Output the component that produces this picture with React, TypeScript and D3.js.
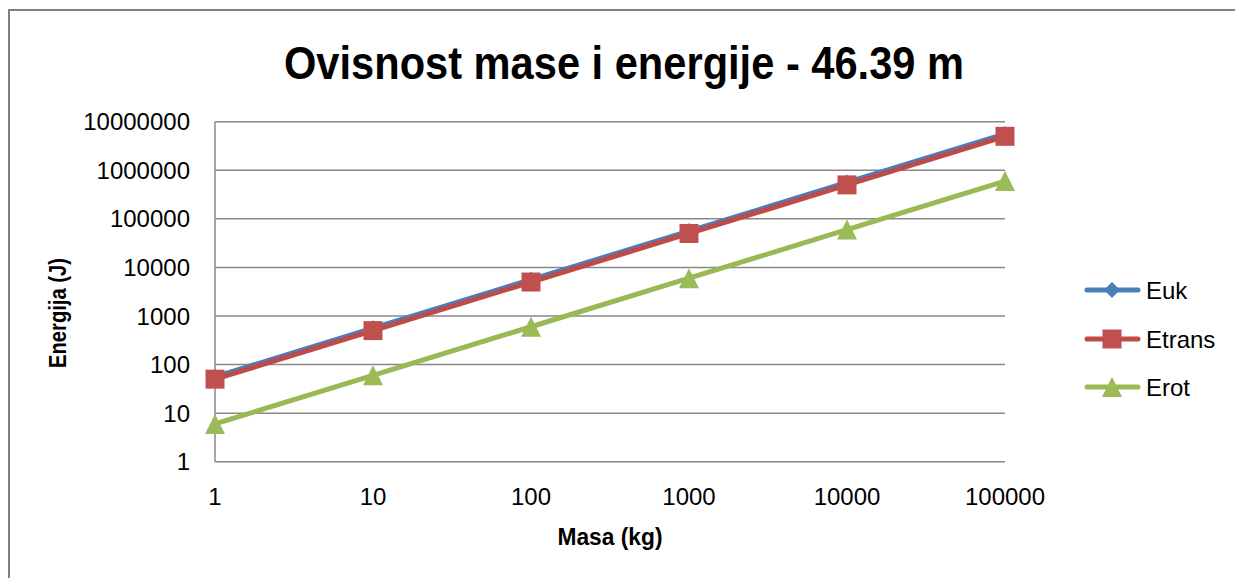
import React from "react";
import * as d3 from "d3";

const masses = [1, 10, 100, 1000, 10000, 100000];
const yTicks = [1, 10, 100, 1000, 10000, 100000, 1000000, 10000000];
const eukValues = [56, 560, 5600, 56000, 560000, 5600000];
const etransValues = [50, 500, 5000, 50000, 500000, 5000000];
const erotValues = [6, 60, 600, 6000, 60000, 600000];
const seriesNames = ["Euk", "Etrans", "Erot"];
const seriesColors = ["#4A7EBB", "#BE4B48", "#98B954"];
const title = "Ovisnost mase i energije - 46.39 m";
const xTitle = "Masa (kg)";
const yTitle = "Energija (J)";

const W = 1235;
const H = 578;
const FONT = "'Liberation Sans', Arial, sans-serif";

export default function App() {
  const x = d3.scaleLog().domain([1, 100000]).range([215, 1005]);
  const y = d3.scaleLog().domain([1, 10000000]).range([461.7, 121.7]);
  const series = [eukValues, etransValues, erotValues];
  const line = d3
    .line<number>()
    .x((_, i) => x(masses[i]))
    .y((v) => y(v));
  const grid = "#888888";
  const legendY = [290, 339, 387];

  const marker = (k: number, cx: number, cy: number, key: string) => {
    const c = seriesColors[k];
    if (k === 0) {
      const r = 8;
      return (
        <path key={key} d={`M${cx},${cy - r}L${cx + r},${cy}L${cx},${cy + r}L${cx - r},${cy}Z`} fill={c} />
      );
    }
    if (k === 1) {
      const s = 19;
      return <rect key={key} x={cx - s / 2} y={cy - s / 2} width={s} height={s} fill="#C0504D" />;
    }
    const s = 20;
    return (
      <path
        key={key}
        d={`M${cx},${cy - s / 2}L${cx + s / 2},${cy + s / 2}L${cx - s / 2},${cy + s / 2}Z`}
        fill="#9BBB59"
      />
    );
  };

  return (
    <svg
      width={W}
      height={H}
      style={{ position: "absolute", left: 0, top: 0, background: "#fff" }}
      fontFamily={FONT}
    >
      <rect x={9} y={10} width={1400} height={800} fill="#fff" stroke="#808080" strokeWidth={2} />
      <text
        x={624}
        y={79}
        textAnchor="middle"
        fontSize={46}
        fontWeight="bold"
        textLength={680}
        lengthAdjust="spacingAndGlyphs"
        fill="#000"
      >
        {title}
      </text>
      {yTicks.map((t) => (
        <g key={"g" + t}>
          <line x1={215} x2={1005} y1={y(t)} y2={y(t)} stroke={grid} strokeWidth={1.5} />
          <text x={190} y={y(t)} dy="0.36em" textAnchor="end" fontSize={24} fill="#000">
            {String(t)}
          </text>
        </g>
      ))}
      <line x1={215} x2={215} y1={y(10000000)} y2={y(1)} stroke={grid} strokeWidth={1.5} />
      {masses.map((m) => (
        <text key={"x" + m} x={x(m)} y={505} textAnchor="middle" fontSize={24} fill="#000">
          {String(m)}
        </text>
      ))}
      <text
        x={610}
        y={545}
        textAnchor="middle"
        fontSize={24}
        fontWeight="bold"
        textLength={105}
        lengthAdjust="spacingAndGlyphs"
      >
        {xTitle}
      </text>
      <text
        transform="translate(66,313) rotate(-90)"
        textAnchor="middle"
        fontSize={24}
        fontWeight="bold"
        textLength={110}
        lengthAdjust="spacingAndGlyphs"
      >
        {yTitle}
      </text>
      {series.map((vals, k) => (
        <g key={"s" + k}>
          <path d={line(vals) || ""} fill="none" stroke={seriesColors[k]} strokeWidth={5} strokeLinejoin="round" />
          {vals.map((v, i) => marker(k, x(masses[i]), y(v), `m${k}-${i}`))}
        </g>
      ))}
      {seriesNames.map((n, k) => (
        <g key={"l" + n}>
          <line
            x1={1087}
            x2={1138}
            y1={legendY[k]}
            y2={legendY[k]}
            stroke={seriesColors[k]}
            strokeWidth={5}
            strokeLinecap="round"
          />
          {marker(k, 1112, legendY[k], "lm" + k)}
          <text x={1146} y={legendY[k]} dy="0.36em" fontSize={24} fill="#000">
            {n}
          </text>
        </g>
      ))}
    </svg>
  );
}
